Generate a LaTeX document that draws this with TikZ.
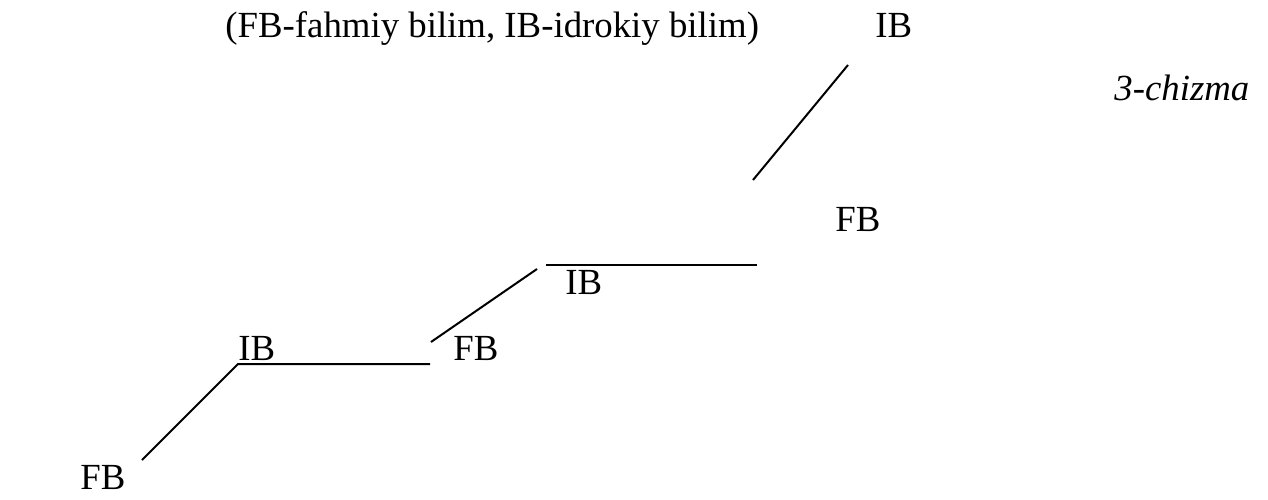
\documentclass[tikz,border=0pt]{standalone}
\usepackage{fontspec}
\setmainfont{Liberation Serif}

\begin{document}
\begin{tikzpicture}
[x=0.5pt,y=-0.5pt,
every node/.style={inner sep=0pt,anchor=base west,font=\fontsize{18.4}{22}\selectfont},
bilim/.style={line width=1pt}]
\useasboundingbox (0,0) rectangle (1268,499);

% yozuvlar
\node (izoh) at (225,37) {(FB-fahmiy bilim, IB-idrokiy bilim)};
\node (ib4) at (875,37) {IB};
\node (chizma) at (1114,100) {\itshape 3-chizma};
\node (fb3) at (835,231) {FB};
\node (ib2) at (565,294) {IB};
\node (ib1) at (238,360) {IB};
\node (fb2) at (453,360) {FB};
\node (fb1) at (80,489) {FB};

% pog'onalar
\coordinate (a1) at (142,460);
\coordinate (a2) at (238,364);
\coordinate (a3) at (430,364);
\coordinate (b1) at (431,342);
\coordinate (b2) at (537,269);
\coordinate (c1) at (546,265);
\coordinate (c2) at (757,265);
\coordinate (d1) at (753,180);
\coordinate (d2) at (848,65);

\draw[bilim] (a1) -- (a2) -- (a3);
\draw[bilim] (b1) -- (b2);
\draw[bilim] (c1) -- (c2);
\draw[bilim] (d1) -- (d2);
\end{tikzpicture}
\end{document}
